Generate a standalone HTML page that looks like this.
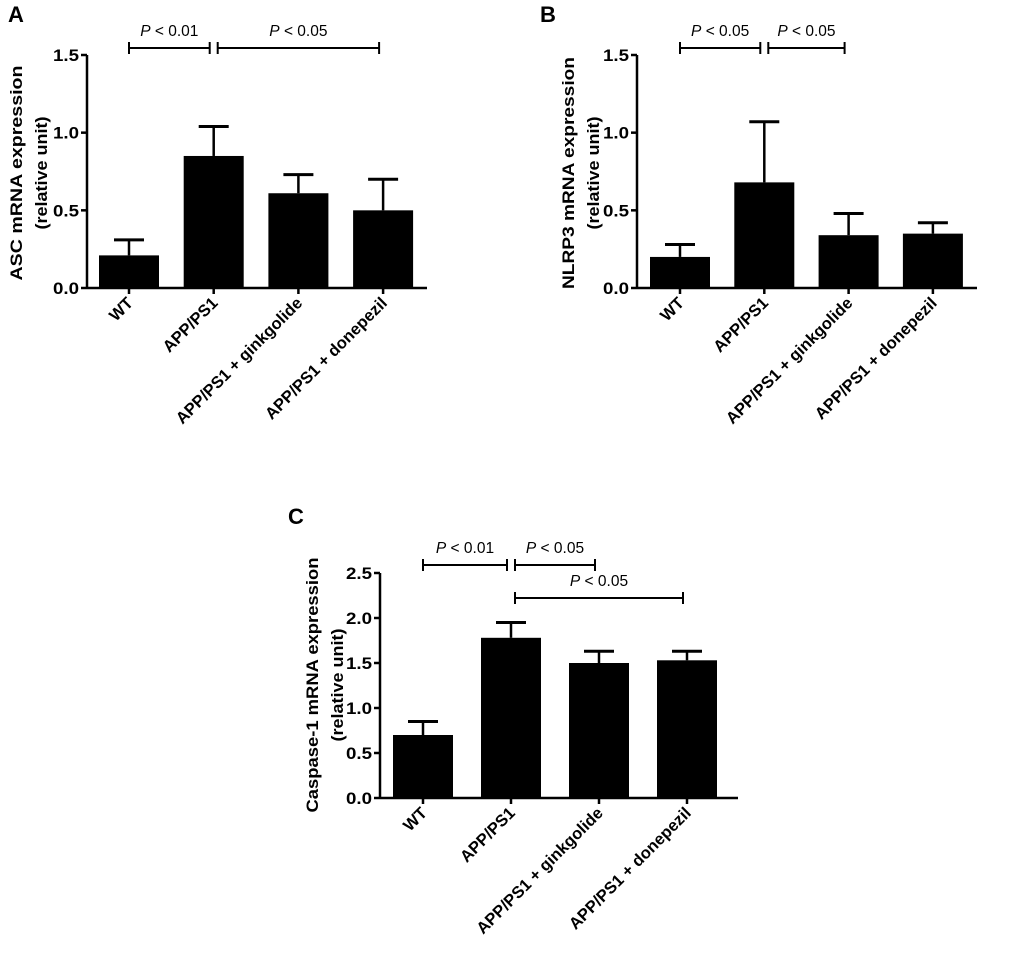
<!DOCTYPE html>
<html><head><meta charset="utf-8">
<style>
html,body{margin:0;padding:0;background:#fff;}
svg{display:block;font-family:"Liberation Sans",Arial,sans-serif;}
</style></head>
<body>
<svg id="fig" width="1020" height="961" viewBox="0 0 1020 961"></svg>
<script>
const categories = ["WT","APP/PS1","APP/PS1 + ginkgolide","APP/PS1 + donepezil"];
const ascValues = [0.21, 0.85, 0.61, 0.50];
const ascErrors = [0.31, 1.04, 0.73, 0.70];
const nlrp3Values = [0.20, 0.68, 0.34, 0.35];
const nlrp3Errors = [0.28, 1.07, 0.48, 0.42];
const casp1Values = [0.70, 1.78, 1.50, 1.53];
const casp1Errors = [0.85, 1.95, 1.63, 1.63];
const ascTicks = [0.0, 0.5, 1.0, 1.5];
const nlrp3Ticks = [0.0, 0.5, 1.0, 1.5];
const casp1Ticks = [0.0, 0.5, 1.0, 1.5, 2.0, 2.5];
const ascSig = [[0,1,"< 0.01"],[1,3,"< 0.05"]];
const nlrp3Sig = [[0,1,"< 0.05"],[1,2,"< 0.05"]];
const casp1Sig = [[0,1,"< 0.01"],[1,2,"< 0.05"],[1,3,"< 0.05"]];

const NS="http://www.w3.org/2000/svg";
const svg=document.getElementById('fig');
function mk(tag,attrs,parent,text){const e=document.createElementNS(NS,tag);for(const k in attrs)e.setAttribute(k,attrs[k]);if(text!==undefined)e.textContent=text;(parent||svg).appendChild(e);return e;}

function panel(cfg){
  const g=mk('g',{});
  
  
  const yMax=cfg.ticks[cfg.ticks.length-1];
  const y=v=>cfg.y0-(v/yMax)*(cfg.y0-cfg.yTop);
  const x=i=>cfg.x0+i*cfg.step;
  const L=mk('text',{x:cfg.letterX,y:cfg.letterY,'font-size':22,'font-weight':'bold'},g,cfg.letter);
  
  
  const yt=mk('text',{transform:`translate(${cfg.titleX},${cfg.titleY}) rotate(-90)`,'text-anchor':'middle','font-size':17,'font-weight':'bold'},g);
  
  
  mk('tspan',{x:0,y:0,textLength:cfg.titleLen,lengthAdjust:'spacingAndGlyphs'},yt,cfg.title);
  mk('tspan',{x:0,y:25,textLength:113,lengthAdjust:'spacingAndGlyphs'},yt,"(relative unit)");
  const ya=mk('line',{x1:cfg.axisX,y1:cfg.yTop,x2:cfg.axisX,y2:cfg.y0,stroke:'#000','stroke-width':2.5},g);
  
  
  const xa=mk('line',{x1:cfg.axisX,y1:cfg.y0,x2:cfg.axisEnd,y2:cfg.y0,stroke:'#000','stroke-width':2.5},g);
  
  
  cfg.ticks.forEach(t=>{
    mk('line',{x1:cfg.axisX-6,y1:y(t),x2:cfg.axisX,y2:y(t),stroke:'#000','stroke-width':2.5},g);
    const tl=mk('text',{x:cfg.axisX-8,y:y(t)+6,'text-anchor':'end','font-size':17,'font-weight':'bold',textLength:26,lengthAdjust:'spacingAndGlyphs'},g,t.toFixed(1));
    
    
  });
  categories.forEach((c,i)=>{
    const cx=x(i), bw=60;
    const eb=mk('g',{},g);
    
    
    mk('line',{x1:cx,y1:y(cfg.errs[i]),x2:cx,y2:y(cfg.vals[i]),stroke:'#000','stroke-width':2.5},eb);
    mk('line',{x1:cx-15,y1:y(cfg.errs[i]),x2:cx+15,y2:y(cfg.errs[i]),stroke:'#000','stroke-width':3},eb);
    const b=mk('rect',{x:cx-bw/2,y:y(cfg.vals[i]),width:bw,height:cfg.y0-y(cfg.vals[i]),fill:'#000'},g);
    
    
    mk('line',{x1:cx,y1:cfg.y0,x2:cx,y2:cfg.y0+6,stroke:'#000','stroke-width':2.5},g);
    const xl=mk('text',{transform:`translate(${cx+5},${cfg.y0+16}) rotate(-45)`,'text-anchor':'end','font-size':16.5,'font-weight':'bold'},g,c);
    
    
  });
  cfg.sig.forEach((s,k)=>{
    const sy=cfg.sigY[k];
    const xa1=x(s[0])+(s[0]===1?4:0), xa2=x(s[1])-(s[1]===1?4:0)+(s[1]>1?-4:0);
    const sg=mk('g',{},g);
    
    
    mk('line',{x1:xa1,y1:sy,x2:xa2,y2:sy,stroke:'#000','stroke-width':2},sg);
    mk('line',{x1:xa1,y1:sy-6,x2:xa1,y2:sy+6,stroke:'#000','stroke-width':2},sg);
    mk('line',{x1:xa2,y1:sy-6,x2:xa2,y2:sy+6,stroke:'#000','stroke-width':2},sg);
    const t=mk('text',{x:(xa1+xa2)/2,y:sy-12,'text-anchor':'middle','font-size':15.5},sg);
    mk('tspan',{'font-style':'italic'},t,'P');
    mk('tspan',{},t,' '+s[2]);
  });
}
panel({name:'panel-a-asc',letter:'A',letterX:8,letterY:22,title:'ASC mRNA expression',titleLen:215,titleX:22,titleY:173,
  axisX:87,axisEnd:427,y0:288,yTop:55,x0:129,step:84.7,ticks:ascTicks,vals:ascValues,errs:ascErrors,sig:ascSig,sigY:[48,48]});
panel({name:'panel-b-nlrp3',letter:'B',letterX:540,letterY:22,title:'NLRP3 mRNA expression',titleLen:232,titleX:574,titleY:173,
  axisX:637,axisEnd:977,y0:288,yTop:55,x0:680,step:84.3,ticks:nlrp3Ticks,vals:nlrp3Values,errs:nlrp3Errors,sig:nlrp3Sig,sigY:[48,48]});
panel({name:'panel-c-caspase1',letter:'C',letterX:288,letterY:524,title:'Caspase-1 mRNA expression',titleLen:255,titleX:318,titleY:685,
  axisX:380,axisEnd:738,y0:798,yTop:573,x0:423,step:88,ticks:casp1Ticks,vals:casp1Values,errs:casp1Errors,sig:casp1Sig,sigY:[565,565,598]});
</script>
</body></html>
